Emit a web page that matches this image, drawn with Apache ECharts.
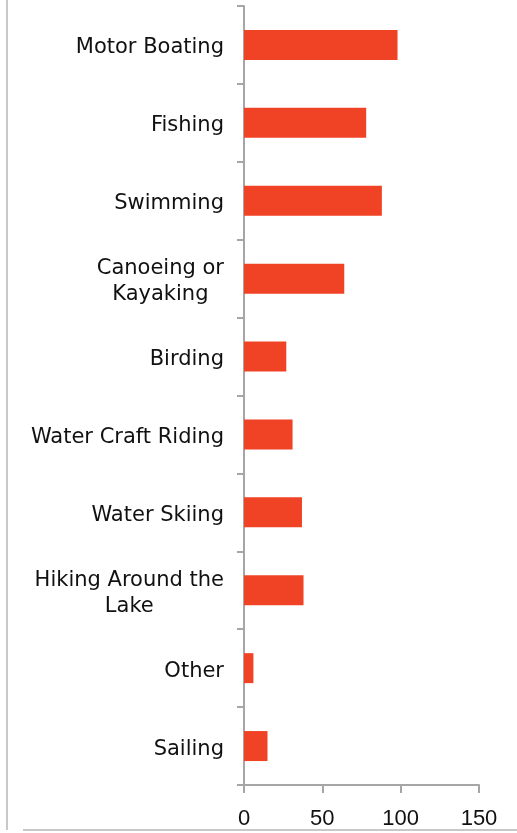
<!DOCTYPE html>
<html>
<head>
<meta charset="utf-8">
<script src="https://cdn.jsdelivr.net/npm/echarts@6/dist/echarts.min.js"></script>
<style>
  html, body { margin: 0; padding: 0; background: #fff; }
  #ec { width: 517px; height: 833px; }
</style>
</head>
<body>
<div id="ec"></div>
<script>
var categories = [
  "Motor Boating",
  "Fishing",
  "Swimming",
  "Canoeing or\nKayaking",
  "Birding",
  "Water Craft Riding",
  "Water Skiing",
  "Hiking Around the\nLake",
  "Other",
  "Sailing"
];
var values = [98, 78, 88, 64, 27, 31, 37, 38, 6, 15];
var xTicks = [0, 50, 100, 150];

var myChart = echarts.init(document.getElementById("ec"));
myChart.setOption({
  animation: false,
  grid: {
    left: 244,
    right: 38,
    top: 6,
    bottom: 48,
  },
  xAxis: {
    type: "value",
    min: xTicks[0],
    max: xTicks[xTicks.length - 1],
    interval: xTicks[1] - xTicks[0],
    splitLine: { show: false },
    axisLine: { show: true, lineStyle: { color: "#a6a6a6", width: 2 } },
    axisTick: { show: true, length: 8, lineStyle: { color: "#a6a6a6", width: 2 } },
    axisLabel: {
      margin: 23,
      fontSize: 22,
      fontFamily: "Liberation Sans",
      color: "#111",
    },
  },
  yAxis: {
    type: "category",
    inverse: true,
    data: categories,
    axisLine: { show: true, lineStyle: { color: "#a6a6a6", width: 2 } },
    axisTick: { show: true, length: 7, lineStyle: { color: "#a6a6a6", width: 2 } },
    axisLabel: {
      margin: 20,
      padding: [6, 0, 0, 0],
      fontSize: 21,
      fontFamily: "DejaVu Sans",
      color: "#111",
      lineHeight: 26,
      formatter: function (v) {
        // centre the lines of wrapped labels within their block
        return v.split("\n").map(function (s) { return "{c|" + s + "}"; }).join("\n");
      },
      rich: {
        c: {
          align: "center",
          fontSize: 21,
          fontFamily: "DejaVu Sans",
          color: "#111",
          lineHeight: 26,
        },
      },
    },
  },
  series: [
    {
      type: "bar",
      data: values,
      barWidth: 30,
      itemStyle: { color: "#f04325" },
    },
  ],
  graphic: [
    {
      type: "line",
      shape: { x1: 7, y1: 0, x2: 7, y2: 830 },
      style: { stroke: "#c8c8c8", lineWidth: 2 },
    },
    {
      type: "line",
      shape: { x1: 23, y1: 830, x2: 517, y2: 830 },
      style: { stroke: "#c8c8c8", lineWidth: 2 },
    },
  ],
});
</script>
</body>
</html>
